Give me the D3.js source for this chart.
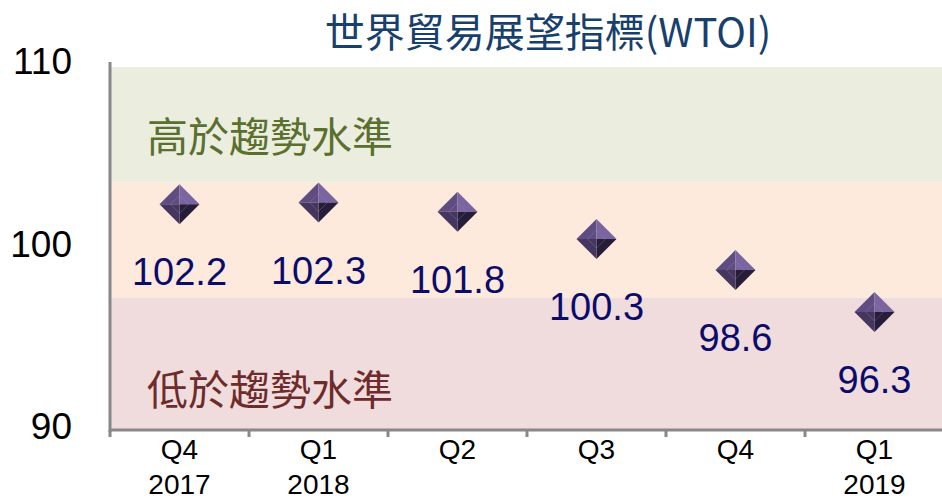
<!DOCTYPE html>
<html>
<head>
<meta charset="utf-8">
<script src="https://cdnjs.cloudflare.com/ajax/libs/d3/7.8.5/d3.min.js"></script>
<style>
  body { margin: 0; background: #fff; }
  .axis path, .axis line { stroke: #888; stroke-width: 3; }
  .axis text { font-family: "Liberation Sans", Arial, sans-serif; fill: #000; }
</style>
</head>
<body>
<div id="vis"></div>
<script>
// Chart data
var quarters = ['Q4', 'Q1', 'Q2', 'Q3', 'Q4', 'Q1'];
var years = ['2017', '2018', '', '', '', '2019'];
var values = [102.2, 102.3, 101.8, 100.3, 98.6, 96.3];
var yTicks = [90, 100, 110];
// trend zone limits and labels
var bandLimits = [97.1, 103.4];
var bandLabels = ['低於趨勢水準', '高於趨勢水準'];

var width = 942, height = 499;
var margin = { left: 110, right: 0, top: 62, bottom: 72 };

var svg = d3.select('#vis').append('svg')
    .attr('width', width)
    .attr('height', height);

var ids = values.map(function (d, i) { return i; });

var xScale = d3.scaleBand()
    .domain(ids)
    .range([margin.left, 944]);

var yScale = d3.scaleLinear()
    .domain([90, 110])
    .range([427, 62]);

// background zones
var zones = [
    { y0: 90, y1: bandLimits[0], fill: '#f0dcdc' },
    { y0: bandLimits[0], y1: bandLimits[1], fill: '#fdeadd' },
    { y0: bandLimits[1], y1: 110, fill: '#ebeedf' }
];
svg.selectAll('rect.zone').data(zones).enter().append('rect')
    .attr('class', 'zone')
    .attr('x', margin.left)
    .attr('width', width - margin.left)
    .attr('y', function (d) { return d.y1 === 110 ? 67 : yScale(d.y1); })
    .attr('height', function (d) {
        var top = d.y1 === 110 ? 67 : yScale(d.y1);
        return (d.y0 === 90 ? 430 : yScale(d.y0)) - top;
    })
    .attr('fill', function (d) { return d.fill; });

// zone labels
svg.append('text')
    .attr('x', 147).attr('y', 152)
    .attr('font-family', '"Noto Sans CJK TC", sans-serif')
    .attr('font-size', 41)
    .attr('fill', '#5b6f2e')
    .text(bandLabels[1]);
svg.append('text')
    .attr('x', 147).attr('y', 405)
    .attr('font-family', '"Noto Sans CJK TC", sans-serif')
    .attr('font-size', 41)
    .attr('fill', '#6e2b2b')
    .text(bandLabels[0]);

// title
svg.append('text')
    .attr('x', 548).attr('y', 47)
    .attr('text-anchor', 'middle')
    .attr('font-family', '"Noto Sans CJK TC", "Liberation Sans", sans-serif')
    .attr('font-size', 40)
    .attr('fill', '#17406d')
    .text('世界貿易展望指標(WTOI)');

// y axis
var yAxis = d3.axisLeft(yScale).tickValues(yTicks).tickSize(0).tickPadding(38);
var yAxisG = svg.append('g')
    .attr('class', 'axis')
    .attr('transform', 'translate(' + margin.left + ',0)')
    .call(yAxis);
yAxisG.select('.domain').attr('d', 'M0,62V432');
yAxisG.selectAll('text').attr('font-size', 37);

// x axis: labels from the band scale, boundary ticks drawn separately
var xAxis = d3.axisBottom(xScale).tickSize(0).tickPadding(10).tickFormat(function (i) { return quarters[i]; });
var xAxisG = svg.append('g')
    .attr('class', 'axis')
    .attr('transform', 'translate(0,430)')
    .call(xAxis);
xAxisG.select('.domain').attr('d', 'M' + (margin.left - 1) + ',0H' + width);
xAxisG.selectAll('.tick text')
    .attr('font-size', 28)
    .attr('y', 9)
    .each(function (i) {
        if (years[i]) {
            d3.select(this).append('tspan')
                .attr('x', 0).attr('dy', '1.27em')
                .text(years[i]);
        }
    });
xAxisG.selectAll('line.bound').data(ids).enter().append('line')
    .attr('class', 'bound')
    .attr('x1', function (i) { return xScale(i); })
    .attr('x2', function (i) { return xScale(i); })
    .attr('y1', 0).attr('y2', 7)
    .attr('stroke', '#888').attr('stroke-width', 3);

// diamond markers (bevelled pyramid look)
var r = 20;
var faces = [
    { pts: [[0, 0], [0, -r], [-r, 0]], fill: '#5f4c80' },
    { pts: [[0, 0], [0, -r], [r, 0]], fill: '#7b65a0' },
    { pts: [[0, 0], [r, 0], [0, r]], fill: '#261d38' },
    { pts: [[0, 0], [-r, 0], [0, r]], fill: '#44365f' }
];
var marks = svg.selectAll('g.mark').data(values).enter().append('g')
    .attr('class', 'mark')
    .attr('transform', function (d, i) {
        return 'translate(' + (xScale(i) + xScale.bandwidth() / 2) + ',' + yScale(d) + ')';
    });
marks.selectAll('polygon').data(faces).enter().append('polygon')
    .attr('points', function (f) { return f.pts.map(function (p) { return p.join(','); }).join(' '); })
    .attr('fill', function (f) { return f.fill; });
// inner bevel highlight
marks.append('polygon')
    .attr('points', '0,-9 9,0 0,9 -9,0')
    .attr('fill', 'none')
    .attr('stroke', '#9a88c0')
    .attr('stroke-opacity', 0.35)
    .attr('stroke-width', 1);

// value labels
svg.selectAll('text.val').data(values).enter().append('text')
    .attr('class', 'val')
    .attr('x', function (d, i) { return xScale(i) + xScale.bandwidth() / 2; })
    .attr('y', function (d) { return yScale(d) + 81; })
    .attr('text-anchor', 'middle')
    .attr('font-family', '"Liberation Sans", Arial, sans-serif')
    .attr('font-size', 38)
    .attr('fill', '#0b0b6b')
    .text(function (d) { return d.toFixed(1); });
</script>
</body>
</html>
